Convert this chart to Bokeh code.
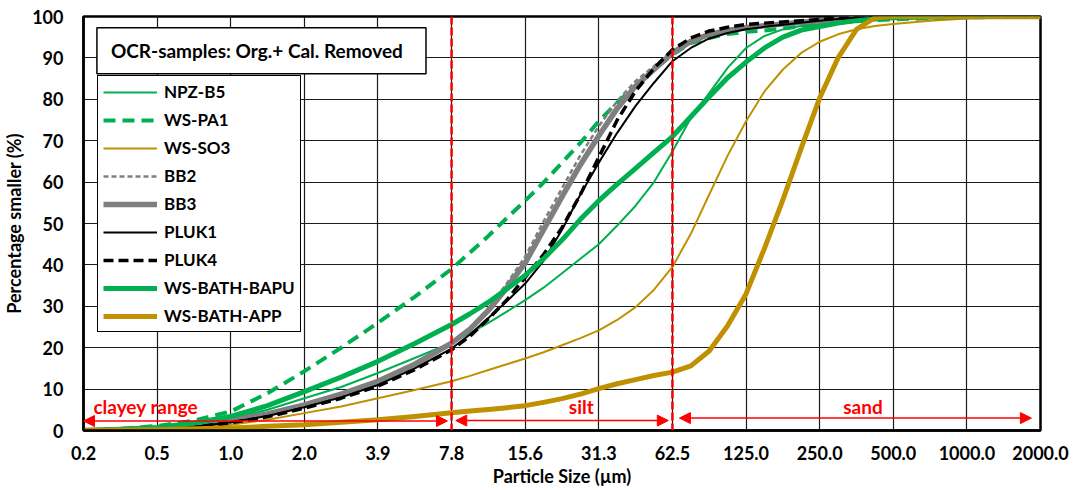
from bokeh.plotting import figure
from bokeh.models import (Span, Arrow, NormalHead, Label, BoxAnnotation,
                          Legend, LegendItem, FixedTicker)
from bokeh.embed import file_html
from bokeh.resources import INLINE

# ---------------- data ----------------
# particle sizes (um): half-phi steps, quarter-phi steps between 7.8 and 500 um
size_um = [0.2441, 0.3453, 0.4883, 0.6905, 0.9766, 1.381, 1.953, 2.762, 3.906, 5.524,
           7.8125, 9.291, 11.05, 13.14, 15.625, 18.58, 22.10, 26.28, 31.25, 37.16,
           44.19, 52.56, 62.5, 74.33, 88.39, 105.1, 125.0, 148.7, 176.8, 210.2,
           250.0, 297.3, 353.6, 420.4, 500.0,
           707.1, 1000.0, 1414.0, 2000.0]

npz_b5 = [0, 0.3, 0.6, 1.5, 2.8, 5.0, 7.8, 10.5, 13.9, 17.5,
          21.2, 23.5, 26.0, 28.7, 31.5, 34.5, 38.0, 41.5, 45.0, 49.5, 54.3, 60.0, 67.4,
          75.5, 81.5, 87.6, 92.4, 95.3, 96.9, 97.7, 98.2, 98.6, 99.0, 99.3, 99.5,
          99.7, 99.9, 100, 100]
ws_pa1 = [0, 0.4, 1.1, 2.4, 4.6, 9.0, 14.3, 20.0, 26.0, 32.3,
          39.0, 43.0, 47.0, 51.3, 55.5, 59.9, 64.7, 69.5, 74.7, 79.2, 83.2, 87.2, 90.8,
          93.6, 94.8, 95.8, 96.3, 96.6, 97.1, 97.6, 98.1, 98.5, 98.9, 99.1, 99.3,
          99.6, 99.8, 99.9, 100]
ws_so3 = [0, 0.15, 0.3, 0.7, 1.4, 2.6, 4.2, 5.8, 7.8, 9.8,
          11.9, 13.2, 14.6, 16.0, 17.4, 18.9, 20.6, 22.3, 24.2, 26.7, 29.8, 34.0, 39.5,
          47.5, 57.0, 66.4, 74.7, 81.9, 87.2, 91.2, 93.9, 95.7, 96.9, 97.7, 98.2,
          99.0, 99.5, 99.8, 100]
bb2 = [0, 0.1, 0.3, 1.0, 2.3, 3.9, 6.1, 8.7, 11.8, 16.0,
       21.2, 24.8, 29.6, 35.5, 42.0, 50.5, 58.5, 66.5, 73.5, 79.6, 84.4, 88.0, 91.6,
       94.2, 95.8, 96.7, 97.4, 97.9, 98.3, 98.7, 99.1, 99.5, 99.8, 100, 100,
       100, 100, 100, 100]
bb3 = [0, 0.1, 0.3, 1.1, 2.4, 4.0, 6.2, 8.8, 11.9, 16.0,
       21.1, 24.5, 29.0, 34.5, 40.5, 48.5, 56.5, 64.2, 71.2, 77.8, 83.2, 87.2, 91.2,
       94.0, 95.7, 96.6, 97.3, 97.8, 98.2, 98.6, 99.0, 99.4, 99.8, 100, 100,
       100, 100, 100, 100]
pluk1 = [0, 0.05, 0.2, 0.9, 2.0, 3.5, 5.6, 8.0, 11.0, 15.0,
         19.8, 23.2, 27.2, 31.2, 35.5, 41.0, 48.5, 57.0, 64.7, 71.9, 78.4, 84.0, 89.2,
         92.4, 94.7, 96.0, 96.9, 97.5, 98.0, 98.5, 99.0, 99.4, 99.7, 99.9, 100,
         100, 100, 100, 100]
pluk4 = [0, 0.05, 0.2, 0.8, 1.9, 3.3, 5.4, 7.8, 10.7, 14.7,
         19.5, 22.8, 27.0, 31.5, 37.0, 42.5, 49.0, 57.0, 66.0, 75.0, 82.0, 87.5, 92.0,
         94.8, 96.5, 97.4, 98.1, 98.4, 98.7, 99.0, 99.3, 99.6, 99.9, 100, 100,
         100, 100, 100, 100]
ws_bath_bapu = [0, 0.3, 0.7, 1.8, 3.4, 6.0, 9.4, 12.9, 16.7, 21.0,
                25.6, 28.2, 31.0, 34.2, 37.5, 41.5, 46.0, 51.0, 55.5, 59.5, 63.3, 67.2, 71.0,
                75.8, 80.6, 85.2, 89.0, 92.4, 95.0, 96.7, 97.6, 98.4, 99.0, 99.4, 99.7,
                99.9, 100, 100, 100]
ws_bath_app = [0, 0.1, 0.2, 0.4, 0.6, 1.0, 1.4, 2.0, 2.6, 3.4,
               4.3, 4.7, 5.1, 5.5, 6.0, 6.8, 7.7, 8.8, 10.1, 11.3, 12.3, 13.3, 14.1,
               15.6, 19.2, 25.3, 33.0, 44.0, 55.7, 68.2, 80.3, 90.0, 96.9, 99.7, 100,
               100, 100, 100, 100]

x_ticks = [0.244140625, 0.48828125, 0.9765625, 1.953125, 3.90625, 7.8125, 15.625,
           31.25, 62.5, 125.0, 250.0, 500.0, 1000.0, 2000.0]
x_tick_labels = ["0.2", "0.5", "1.0", "2.0", "3.9", "7.8", "15.6", "31.3", "62.5",
                 "125.0", "250.0", "500.0", "1000.0", "2000.0"]
y_ticks = [0, 10, 20, 30, 40, 50, 60, 70, 80, 90, 100]

CLAY_LIMIT = 7.8125
SILT_LIMIT = 62.5

GREEN = "#00B050"
GOLD = "#BF9000"
GRAY = "#7F7F7F"
RED = "#FF0000"
FONT = "Lato"

# ---------------- figure ----------------
p = figure(width=1079, height=490, x_axis_type="log",
           x_range=(x_ticks[0], x_ticks[-1]), y_range=(0, 100),
           output_backend="svg", toolbar_location=None,
           min_border_left=83, min_border_right=39, min_border_top=16,
           min_border_bottom=60)
p.background_fill_color = "white"
p.border_fill_color = "white"
p.outline_line_color = "black"
p.outline_line_width = 2.5

p.xaxis.ticker = FixedTicker(ticks=x_ticks, minor_ticks=[])
p.xaxis.major_label_overrides = {t: l for t, l in zip(x_ticks, x_tick_labels)}
p.yaxis.ticker = FixedTicker(ticks=y_ticks, minor_ticks=[])

for ax in (p.xaxis[0], p.yaxis[0]):
    ax.axis_line_width = 2.5
    ax.axis_line_color = "black"
    ax.major_tick_in = 0
    ax.major_tick_out = 0
    ax.minor_tick_in = 0
    ax.minor_tick_out = 0
    ax.major_label_text_font = FONT
    ax.major_label_text_font_style = "bold"
    ax.major_label_text_font_size = "18px"
    ax.major_label_text_color = "black"
    ax.axis_label_text_font = FONT
    ax.axis_label_text_font_style = "bold"
    ax.axis_label_text_font_size = "18px"
    ax.axis_label_text_color = "black"

p.xaxis.axis_label = "Particle Size (µm)"
p.xaxis.major_label_standoff = 15
p.xaxis.axis_label_standoff = 2
p.yaxis.axis_label = "Percentage smaller (%)"
p.yaxis.major_label_standoff = 20
p.yaxis.axis_label_standoff = 4

p.xgrid.grid_line_color = "#1a1a1a"
p.xgrid.grid_line_width = 1.2
p.ygrid.grid_line_color = "#1a1a1a"
p.ygrid.grid_line_width = 1.2

# ---------------- series ----------------
r1 = p.line(size_um, npz_b5, line_color=GREEN, line_width=2)
r2 = p.line(size_um, ws_pa1, line_color=GREEN, line_width=4, line_dash="12 7")
r3 = p.line(size_um, ws_so3, line_color=GOLD, line_width=2)
r4 = p.line(size_um, bb2, line_color=GRAY, line_width=2.5, line_dash="5 3")
r5 = p.line(size_um, bb3, line_color=GRAY, line_width=5.5)
r6 = p.line(size_um, pluk1, line_color="black", line_width=2)
r7 = p.line(size_um, pluk4, line_color="black", line_width=3.5, line_dash="10 5")
r8 = p.line(size_um, ws_bath_bapu, line_color=GREEN, line_width=5)
r9 = p.line(size_um, ws_bath_app, line_color=GOLD, line_width=5)
for r in (r1, r2, r3, r4, r5, r6, r7, r8, r9):
    r.glyph.line_join = "round"

# ---------------- class boundaries ----------------
for loc in (CLAY_LIMIT, SILT_LIMIT):
    p.add_layout(Span(location=loc, dimension="height", line_color=RED,
                      line_width=2.5, line_dash="8 3"))

def head():
    return NormalHead(size=11, fill_color=RED, line_color=RED, line_width=1)

p.add_layout(Arrow(x_start=x_ticks[0], y_start=2.3, x_end=CLAY_LIMIT * 0.962, y_end=2.3,
                   start=head(), end=head(), line_color=RED, line_width=1.5))
p.add_layout(Arrow(x_start=CLAY_LIMIT * 1.04, y_start=2.4, x_end=SILT_LIMIT * 0.962, y_end=2.4,
                   start=head(), end=head(), line_color=RED, line_width=1.5))
p.add_layout(Arrow(x_start=SILT_LIMIT * 1.068, y_start=3.0, x_end=x_ticks[-1] * 0.918, y_end=3.0,
                   start=head(), end=head(), line_color=RED, line_width=1.5))

for txt, xx, align in (("clayey range", 0.268, "left"), ("silt", 26.5, "center"),
                       ("sand", 376.0, "center")):
    p.add_layout(Label(x=xx, y=5.8, text=txt, text_color=RED, text_font=FONT,
                       text_font_style="bold", text_font_size="19px",
                       text_align=align, text_baseline="middle"))

# ---------------- title box ----------------
p.add_layout(BoxAnnotation(left=0.277, right=6.14, bottom=86.2, top=97.3,
                           fill_color="white", fill_alpha=1.0,
                           line_color="black", line_width=1.5, line_alpha=1.0))
p.add_layout(Label(x=0.316, y=91.8, text="OCR-samples: Org.+ Cal. Removed",
                   text_color="black", text_font=FONT, text_font_style="bold",
                   text_font_size="19px", text_baseline="middle"))

# ---------------- legend ----------------
names = ["NPZ-B5", "WS-PA1", "WS-SO3", "BB2", "BB3", "PLUK1", "PLUK4",
         "WS-BATH-BAPU", "WS-BATH-APP"]
items = [LegendItem(label=n, renderers=[r])
         for n, r in zip(names, (r1, r2, r3, r4, r5, r6, r7, r8, r9))]
legend = Legend(items=items, location=(14, 98), padding=5, spacing=7,
                glyph_width=54, glyph_height=20, label_height=20, label_standoff=7,
                label_text_font=FONT, label_text_font_style="bold",
                label_text_font_size="17px", label_text_color="black",
                border_line_color="black", border_line_width=1.5, border_line_alpha=1,
                background_fill_color="white", background_fill_alpha=1, margin=0)
p.add_layout(legend)

open("out.html", "w").write(file_html(p, INLINE))
